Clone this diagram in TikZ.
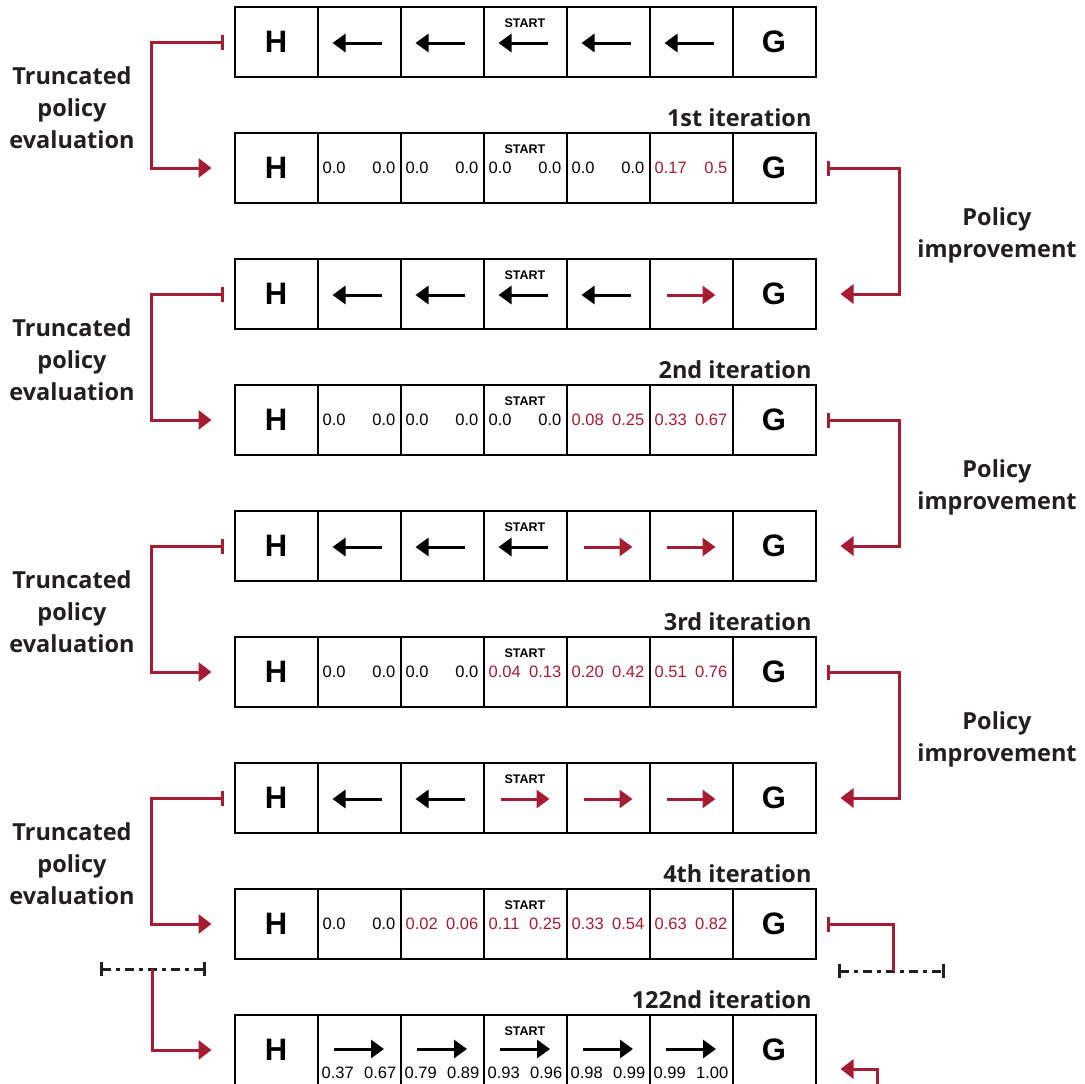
\documentclass[tikz,border=0pt]{standalone}
\usepackage{fontspec}
\usepackage{tikz}
\usetikzlibrary{arrows.meta}
\newfontfamily\cellfont{Liberation Sans}
\newfontfamily\labelfont{Open Sans}
\definecolor{crimson}{RGB}{166,28,50}
\definecolor{ink}{RGB}{35,31,32}

\begin{document}
\begin{tikzpicture}[x=1pt, y=-1pt, >={Triangle[length=13pt,width=19pt]},
	rowbox/.style={draw, line width=2pt, minimum width=581pt, minimum height=70pt, inner sep=0pt, outer sep=0pt},
	sep/.style={line width=2pt},
	hg/.style={font=\cellfont\bfseries\fontsize{31}{31}\selectfont},
	st/.style={font=\cellfont\bfseries\fontsize{12.5}{12.5}\selectfont},
	num/.style={font=\cellfont\fontsize{16.5}{16.5}\selectfont, inner sep=0pt},
	lbl/.style={font=\labelfont\bfseries\fontsize{23.5}{32}\selectfont, text=ink},
	pol/.style={line width=3pt, -{Triangle[length=13pt,width=18pt]}},
	red/.style={crimson, line width=3pt},
	cut/.style={ink, line width=3pt, dash pattern=on 9pt off 5pt on 4pt off 5pt}]
	\useasboundingbox (0,0) rectangle (1085,1084);

	\foreach \k in {1,...,9} {
		\pgfmathsetmacro{\y}{42+126*(\k-1)}
		\node[rowbox] (r\k) at (525,\y) {};
		\foreach \i in {1,...,6}
			\draw[sep] ([xshift=\i*83pt]r\k.north west) -- ([xshift=\i*83pt]r\k.south west);
		\node[hg] (h\k) at (276,\y) {H};
		\node[hg] (g\k) at (774,\y) {G};
		\node[st] (s\k) at (525,\y-19) {START};
	}

	\foreach \k/\n in {1/0,3/1,5/2,7/3} {
		\pgfmathsetmacro{\y}{43+126*(\k-1)}
		\foreach \i in {2,...,6} {
			\pgfmathsetmacro{\c}{234.5+83*(\i-0.5)}
			\ifnum\i>\numexpr6-\n\relax
				\draw[pol, crimson] (\c-24.5,\y) -- (\c+24.5,\y);
			\else
				\draw[pol] (\c+22.5,\y) -- (\c-26.5,\y);
			\fi
		}
	}

	\foreach \k/\vals in {
		2/{0.0/0.0/black,0.0/0.0/black,0.0/0.0/black,0.0/0.0/black,0.17/0.5/crimson},
		4/{0.0/0.0/black,0.0/0.0/black,0.0/0.0/black,0.08/0.25/crimson,0.33/0.67/crimson},
		6/{0.0/0.0/black,0.0/0.0/black,0.04/0.13/crimson,0.20/0.42/crimson,0.51/0.76/crimson},
		8/{0.0/0.0/black,0.02/0.06/crimson,0.11/0.25/crimson,0.33/0.54/crimson,0.63/0.82/crimson}} {
		\pgfmathsetmacro{\y}{47+126*(\k-1)}
		\foreach \a/\b/\col [count=\i from 2] in \vals {
			\node[num, text=\col, anchor=base west] (v\k-\i-a) at (234.5+83*\i-78,\y) {\a};
			\node[num, text=\col, anchor=base east] (v\k-\i-b) at (234.5+83*\i-5,\y) {\b};
		}
	}

	\foreach \a/\b [count=\i from 2] in {0.37/0.67,0.79/0.89,0.93/0.96,0.98/0.99,0.99/1.00} {
		\pgfmathsetmacro{\c}{234.5+83*(\i-0.5)}
		\draw[pol] (\c-25,1049) -- (\c+25,1049);
		\node[num, anchor=base west] (v9-\i-a) at (234.5+83*\i-79,1078) {\a};
		\node[num, anchor=base east] (v9-\i-b) at (234.5+83*\i-4,1078) {\b};
	}

	\foreach \k/\t in {2/1st,4/2nd,6/3rd,8/4th,9/122nd}
		\node[lbl, anchor=base east] (it\k) at (815,{126*(\k-1)}) {\t\ iteration};

	\foreach \k [evaluate=\k as \j using int(\k+1)] in {1,3,5,7} {
		\draw[red, {Bar[width=15pt]}->] ([xshift=-11pt]r\k.west) -- ++(-72,0) |- ([xshift=-23pt]r\j.west);
		\node[lbl, align=center] (ev\k) at (72,{108+126*(\k-1)}) {Truncated\\policy\\evaluation};
	}
	\foreach \k [evaluate=\k as \j using int(\k+1)] in {2,4,6} {
		\draw[red, {Bar[width=15pt]}->] ([xshift=11pt]r\k.east) -- ++(73,0) |- ([xshift=25pt]r\j.east);
		\node[lbl, align=center] (pi\k) at (997,{235+126*(\k-2)}) {Policy\\improvement};
	}

	\coordinate (cutl) at (100,969);
	\coordinate (cutlm) at (152,969);
	\coordinate (cutlr) at (206,969);
	\coordinate (cutr) at (838,971);
	\coordinate (cutrm) at (893,971);
	\coordinate (cutrr) at (945,971);
	\coordinate (ret) at (877,1095);
	\coordinate (back9) at ([xshift=25pt,yshift=-19pt]r9.east);
	\draw[cut, {Bar[width=14pt]}-{Bar[width=14pt]}] (cutl) -- (cutlr);
	\draw[cut, {Bar[width=14pt]}-{Bar[width=14pt]}] (cutr) -- (cutrr);
	\draw[red, ->] (cutlm) |- ([xshift=-23pt]r9.west);
	\draw[red, {Bar[width=15pt]}-] ([xshift=11pt]r8.east) -| (cutrm);
	\draw[red, ->] (ret) |- (back9);
\end{tikzpicture}
\end{document}
